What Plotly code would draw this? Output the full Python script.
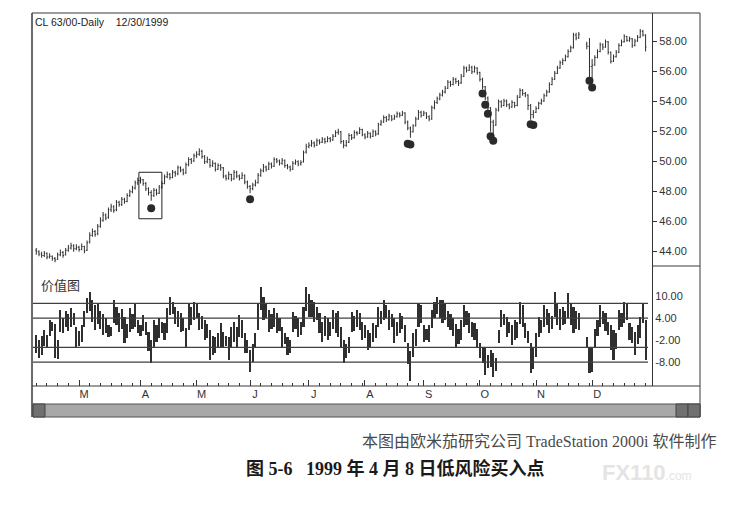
import pandas as pd
import plotly.graph_objects as go

W, H = 741, 507
OFF = 8  # page body margin; the figure starts 8px in from the window corner
FW, FH = W - OFF, H - OFF

# trading calendar (NYMEX crude, Feb 4 - Dec 30 1999)
HOLIDAYS = ["1999-02-15", "1999-04-02", "1999-05-31", "1999-07-05",
            "1999-09-06", "1999-11-25", "1999-12-24"]
MONTH_LABELS = ["M", "A", "M", "J", "J", "A", "S", "O", "N", "D"]

# CL daily bars (two missing days late Nov shown as gaps)
opens = [
    44.05, 43.95, 43.80, 43.70, 43.85, 43.60, 43.65, 43.50, 43.45, 43.75,
    43.90, 43.75, 44.05, 44.20, 44.35, 44.15, 44.25, 44.10, 44.30, 44.05,
    44.60, 45.05, 45.30, 45.15, 45.65, 46.05, 46.40, 46.25, 46.75, 46.95,
    46.75, 47.25, 47.10, 47.45, 47.30, 47.70, 47.95, 48.20, 48.55, 48.70,
    48.75, 48.50, 48.15, 47.90, 47.70, 48.05, 47.85, 48.25, 48.50, 48.95,
    49.10, 48.90, 49.25, 49.15, 49.55, 49.40, 49.20, 49.75, 50.10, 50.00,
    50.35, 50.45, 50.65, 50.30, 49.95, 50.10, 49.70, 49.85, 49.45, 49.70,
    49.55, 49.00, 48.85, 49.10, 48.80, 49.25, 49.00, 48.85, 49.05, 48.60,
    48.30, 48.15, 48.40, 48.55, 49.05, 49.35, 49.60, 49.45, 49.80, 49.65,
    50.10, 50.00, 49.85, 50.05, 49.70, 49.60, 49.45, 49.85, 49.95, 49.80,
    49.95, 50.60, 50.95, 51.05, 51.20, 51.05, 51.35, 51.25, 51.45, 51.30,
    51.50, 51.40, 51.65, 51.90, 51.95, 51.30, 51.05, 51.25, 51.70, 51.55,
    51.90, 51.85, 52.10, 51.75, 51.60, 51.85, 51.65, 51.95, 51.80, 52.45,
    52.60, 52.90, 52.75, 53.00, 52.80, 52.95, 53.15, 53.05, 53.20, 52.60,
    52.20, 51.95, 52.35, 52.80, 53.25, 53.05, 53.20, 52.95, 52.80, 53.55,
    53.90, 54.15, 54.40, 54.60, 54.85, 55.25, 55.10, 55.45, 55.30, 55.20,
    55.65, 56.20, 56.05, 56.25, 55.95, 56.20, 55.90, 55.45, 54.95, 54.20,
    53.55, 52.60, 52.40, 53.40, 53.95, 53.70, 54.00, 53.75, 53.60, 53.90,
    53.70, 54.25, 54.70, 54.50, 54.40, 53.70, 53.10, 53.25, 53.50, 53.85,
    54.00, 54.35, 54.60, 55.10, 55.45, 55.85, 56.20, 56.55, 56.70, 56.95,
    57.30, 57.55, 58.40, 58.20, None, None, 57.80, 57.65, 56.30, 56.40,
    56.90, 57.30, 57.75, 57.60, 57.95, 57.25, 56.65, 56.95, 57.25, 57.70,
    57.95, 58.30, 58.05, 58.15, 57.70, 58.00, 58.25, 58.65, 58.40,
]
highs = [
    44.20, 44.05, 43.95, 44.00, 43.90, 43.85, 43.70, 43.60, 43.90, 44.10,
    44.00, 44.20, 44.40, 44.55, 44.45, 44.45, 44.35, 44.50, 44.35, 44.70,
    45.25, 45.50, 45.40, 45.80, 46.25, 46.60, 46.50, 46.90, 47.15, 47.05,
    47.40, 47.35, 47.60, 47.55, 47.85, 48.10, 48.35, 48.70, 48.90, 48.95,
    48.80, 48.60, 48.25, 48.05, 48.20, 48.15, 48.40, 48.65, 49.10, 49.30,
    49.20, 49.40, 49.35, 49.70, 49.65, 49.50, 49.90, 50.25, 50.20, 50.50,
    50.65, 50.85, 50.75, 50.40, 50.30, 50.15, 50.05, 49.90, 49.85, 49.80,
    49.60, 49.10, 49.30, 49.15, 49.40, 49.35, 49.10, 49.25, 49.10, 48.70,
    48.40, 48.55, 48.75, 49.20, 49.50, 49.80, 49.70, 49.95, 49.90, 50.25,
    50.20, 50.10, 50.20, 50.10, 49.80, 49.70, 50.00, 50.10, 50.05, 50.05,
    50.70, 51.15, 51.25, 51.40, 51.30, 51.50, 51.45, 51.60, 51.55, 51.65,
    51.60, 51.80, 52.05, 52.15, 52.00, 51.40, 51.40, 51.85, 51.80, 52.05,
    52.00, 52.25, 52.15, 51.85, 52.00, 51.90, 52.10, 52.05, 52.55, 52.75,
    53.05, 53.00, 53.15, 53.05, 53.10, 53.30, 53.25, 53.35, 53.25, 52.70,
    52.30, 52.45, 52.95, 53.40, 53.35, 53.35, 53.25, 53.05, 53.70, 54.05,
    54.30, 54.55, 54.75, 55.00, 55.40, 55.35, 55.60, 55.55, 55.40, 55.80,
    56.35, 56.30, 56.45, 56.35, 56.35, 56.25, 55.95, 55.55, 55.00, 54.30,
    53.60, 52.75, 53.55, 54.10, 54.05, 54.15, 54.10, 53.85, 54.05, 53.95,
    54.40, 54.85, 54.80, 54.60, 54.45, 53.80, 53.40, 53.65, 53.95, 54.15,
    54.50, 54.75, 55.25, 55.60, 56.00, 56.35, 56.70, 56.85, 57.10, 57.45,
    57.70, 58.55, 58.55, 58.60, None, None, 57.95, 58.20, 56.80, 57.05,
    57.45, 57.90, 57.85, 58.10, 58.00, 57.30, 57.10, 57.40, 57.85, 58.10,
    58.45, 58.35, 58.30, 58.20, 58.15, 58.40, 58.80, 58.75, 58.45,
]
lows = [
    43.75, 43.65, 43.55, 43.60, 43.45, 43.50, 43.35, 43.25, 43.40, 43.65,
    43.55, 43.70, 43.95, 44.10, 43.95, 44.05, 43.95, 44.05, 43.85, 44.00,
    44.50, 44.95, 44.95, 45.05, 45.55, 45.95, 46.05, 46.15, 46.60, 46.55,
    46.65, 46.95, 47.00, 47.15, 47.25, 47.60, 47.85, 48.10, 48.40, 48.50,
    48.35, 48.00, 47.70, 47.35, 47.60, 47.70, 47.80, 48.15, 48.45, 48.85,
    48.75, 48.85, 48.95, 49.05, 49.25, 49.05, 49.15, 49.65, 49.80, 49.95,
    50.20, 50.35, 50.15, 49.80, 49.85, 49.55, 49.60, 49.30, 49.40, 49.35,
    48.85, 48.70, 48.75, 48.65, 48.75, 48.85, 48.70, 48.80, 48.45, 48.15,
    47.85, 48.05, 48.30, 48.50, 48.95, 49.25, 49.30, 49.40, 49.50, 49.60,
    49.85, 49.70, 49.75, 49.55, 49.45, 49.30, 49.40, 49.75, 49.65, 49.70,
    49.90, 50.50, 50.85, 50.95, 50.90, 51.00, 51.10, 51.20, 51.15, 51.25,
    51.25, 51.35, 51.60, 51.75, 51.15, 50.85, 50.95, 51.20, 51.40, 51.50,
    51.70, 51.80, 51.65, 51.45, 51.55, 51.50, 51.60, 51.65, 51.75, 52.35,
    52.55, 52.60, 52.70, 52.65, 52.75, 52.90, 52.90, 53.00, 52.45, 52.05,
    51.55, 51.90, 52.30, 52.75, 52.90, 53.00, 52.80, 52.65, 52.75, 53.45,
    53.80, 54.05, 54.30, 54.50, 54.80, 54.95, 55.05, 55.15, 55.00, 55.15,
    55.60, 55.90, 56.00, 55.80, 55.90, 55.75, 55.30, 54.80, 54.05, 53.40,
    51.95, 51.80, 52.35, 53.30, 53.55, 53.65, 53.60, 53.45, 53.55, 53.55,
    53.65, 54.20, 54.35, 54.25, 53.40, 52.75, 52.85, 53.20, 53.45, 53.75,
    53.95, 54.30, 54.55, 55.05, 55.40, 55.80, 56.15, 56.40, 56.65, 56.90,
    57.25, 57.50, 58.05, 58.15, None, None, 57.45, 55.60, 55.25, 56.35,
    56.85, 57.25, 57.40, 57.55, 57.10, 56.50, 56.60, 56.90, 57.20, 57.65,
    57.90, 57.95, 57.95, 57.55, 57.65, 57.95, 58.20, 58.30, 57.30,
]
closes = [
    43.95, 43.80, 43.70, 43.85, 43.60, 43.65, 43.50, 43.40, 43.75, 43.90,
    43.70, 44.05, 44.20, 44.35, 44.15, 44.25, 44.10, 44.30, 44.00, 44.55,
    45.05, 45.30, 45.10, 45.65, 46.05, 46.40, 46.20, 46.75, 46.95, 46.70,
    47.25, 47.10, 47.45, 47.30, 47.70, 47.95, 48.20, 48.55, 48.70, 48.75,
    48.50, 48.15, 47.90, 47.70, 48.05, 47.85, 48.25, 48.50, 48.95, 49.10,
    48.90, 49.25, 49.15, 49.55, 49.40, 49.20, 49.75, 50.10, 50.00, 50.35,
    50.45, 50.65, 50.30, 49.95, 50.10, 49.70, 49.85, 49.45, 49.70, 49.55,
    49.00, 48.85, 49.10, 48.80, 49.25, 49.00, 48.85, 49.05, 48.60, 48.30,
    48.15, 48.40, 48.55, 49.05, 49.35, 49.60, 49.45, 49.80, 49.65, 50.10,
    50.00, 49.85, 50.05, 49.70, 49.60, 49.45, 49.85, 49.95, 49.80, 49.90,
    50.55, 50.95, 51.05, 51.20, 51.05, 51.35, 51.25, 51.45, 51.30, 51.50,
    51.40, 51.65, 51.90, 51.95, 51.30, 51.05, 51.25, 51.70, 51.55, 51.90,
    51.85, 52.10, 51.75, 51.60, 51.85, 51.65, 51.95, 51.80, 52.45, 52.60,
    52.90, 52.75, 53.00, 52.80, 52.95, 53.15, 53.05, 53.20, 52.60, 52.20,
    51.95, 52.35, 52.80, 53.25, 53.05, 53.20, 52.95, 52.80, 53.55, 53.90,
    54.15, 54.40, 54.60, 54.85, 55.25, 55.10, 55.45, 55.30, 55.20, 55.65,
    56.20, 56.05, 56.25, 55.95, 56.20, 55.90, 55.45, 54.95, 54.20, 53.55,
    52.60, 52.35, 53.40, 53.95, 53.70, 54.00, 53.75, 53.60, 53.90, 53.70,
    54.25, 54.70, 54.50, 54.40, 53.70, 53.10, 53.25, 53.50, 53.85, 54.00,
    54.35, 54.60, 55.10, 55.45, 55.85, 56.20, 56.55, 56.70, 56.95, 57.30,
    57.55, 58.40, 58.20, 58.45, None, None, 57.65, 56.30, 56.40, 56.90,
    57.30, 57.75, 57.60, 57.95, 57.25, 56.65, 56.95, 57.25, 57.70, 57.95,
    58.30, 58.05, 58.15, 57.70, 58.00, 58.25, 58.65, 58.40, 57.60,
]

# value chart (价值图) bar high / low
vhigh = [
    -0.5, -2.0, -1.0, 0.7, -0.5, 3.5, 3.0, 2.4, -2.0, 6.2,
    4.0, 6.0, 5.0, 6.7, 5.5, 1.5, 0.5, 2.0, 6.0, 9.5,
    11.1, 8.9, 7.5, 8.0, 6.0, 5.0, 4.0, 2.0, 1.5, 9.0,
    7.0, 5.5, 6.5, 4.3, 2.5, 6.7, 5.0, 8.0, 3.5, 2.0,
    4.8, 3.0, 0.2, -2.0, 3.5, 2.0, 4.0, 3.0, 2.6, 6.7,
    9.7, 8.5, 7.0, 6.0, 5.4, 4.0, 1.3, 8.0, 7.0, 8.4,
    8.0, 5.4, 4.5, 3.5, 2.5, 0.7, -1.0, -1.2, 0.0, 2.6,
    0.2, -1.0, -1.2, 1.5, 3.0, 1.5, 4.8, 3.5, 0.0, -2.0,
    -4.7, -3.0, 0.0, 8.0, 12.4, 9.7, 8.0, 6.2, 5.0, 6.7,
    5.5, 4.0, 1.5, 0.0, -1.2, -2.0, 5.6, 4.5, 4.0, 3.0,
    7.0, 12.4, 10.5, 9.0, 8.4, 7.0, 5.4, 3.0, 4.5, 4.0,
    3.0, 6.2, 5.5, 6.0, 1.5, -2.0, -3.0, -1.2, 5.6, 4.5,
    6.2, 5.5, 3.0, 2.0, 0.7, 0.0, 2.6, 2.0, 7.0, 6.0,
    8.9, 7.5, 6.2, 5.0, 4.0, 3.0, 5.4, 4.5, 2.0, -2.8,
    -5.0, 0.0, 1.0, 8.0, 7.5, 2.0, 1.0, 2.0, 6.2, 8.5,
    9.7, 9.0, 9.0, 8.0, 6.0, 5.0, 4.0, 2.5, 1.0, 3.5,
    7.5, 6.0, 5.4, 3.0, 2.6, 1.0, -2.8, -4.0, -4.2, -6.0,
    -4.7, -5.5, -7.0, 0.7, 6.2, 5.0, 4.3, 3.0, 2.0, 3.5,
    3.0, 8.4, 7.5, 2.6, 0.5, -2.8, -4.0, 0.0, 4.3, 3.5,
    7.5, 6.5, 5.4, 4.5, 11.0, 8.0, 6.5, 7.0, 6.0, 10.8,
    8.0, 7.0, 6.0, 5.4, None, None, -1.2, -4.0, -4.0, 1.0,
    3.5, 7.5, 6.0, 5.4, 3.0, 2.0, 0.7, 0.0, 6.2, 5.5,
    8.4, 8.0, 2.6, 1.5, 0.2, 2.0, 4.3, 8.0, 3.5,
]
vlow = [
    -5.5, -6.9, -6.0, -3.5, -4.0, -1.0, 0.5, -7.0, -7.2, 0.2,
    0.0, 1.5, 0.5, 1.5, 2.0, -4.2, -3.5, -2.5, 1.5, 5.4,
    6.0, 3.0, 0.7, 2.5, 1.0, -0.6, 0.0, -1.2, -1.0, 2.6,
    2.0, 0.2, 1.0, -2.8, -1.5, 0.2, 1.0, 1.5, -0.1, -1.0,
    0.5, -0.6, -5.0, -8.3, -4.2, -2.5, -1.5, 0.0, -2.0, 0.0,
    4.8, 5.0, 2.5, 1.5, 0.2, 0.5, -4.2, 0.7, 2.0, 3.5,
    4.0, 0.7, 1.0, -2.0, -1.5, -7.4, -6.0, -5.6, -4.0, -4.0,
    -4.0, -3.5, -7.4, -4.2, -2.5, -4.0, -1.2, -1.5, -5.5, -5.6,
    -10.7, -8.0, -4.2, 0.7, 6.2, 3.5, 4.0, 0.2, 1.0, 1.5,
    0.0, 0.5, -4.2, -3.0, -6.0, -5.5, 0.2, 1.0, -1.2, -0.5,
    1.5, 6.0, 4.3, 4.3, 3.0, 3.5, 0.0, -2.5, -1.0, -2.0,
    -1.0, 1.0, 0.0, -1.2, -4.2, -8.3, -7.0, -5.5, 0.2, 0.5,
    1.5, 0.7, -2.0, -1.5, -4.7, -4.0, -2.5, -1.5, 1.5, 2.5,
    3.5, 4.0, 0.7, 1.5, -2.8, -1.0, 0.0, 1.0, -2.5, -8.5,
    -13.0, -6.6, -3.5, 1.5, 2.6, -2.5, -2.0, -2.5, 1.3, 4.0,
    5.0, 4.0, 2.6, 3.5, 1.5, 0.7, -1.0, -4.0, -3.0, -2.0,
    1.5, 2.0, 0.0, -1.2, -2.0, -4.0, -7.0, -8.3, -11.5, -9.5,
    -9.3, -12.0, -10.5, -2.8, 1.5, 2.0, -1.2, 0.0, -3.3, -2.0,
    -1.5, 2.5, 1.5, -1.5, -2.8, -11.0, -10.0, -6.6, -1.2, 0.0,
    1.5, 2.0, 0.0, 1.0, 4.3, 2.0, 0.7, 2.0, 2.5, 4.0,
    2.0, 0.0, 1.0, 0.7, None, None, -4.2, -11.0, -10.7, -4.0,
    -1.0, 1.5, 2.5, 0.5, -0.6, -4.7, -7.4, -4.5, 0.7, 1.5,
    2.6, 3.5, -2.0, -2.8, -6.0, -3.0, -1.5, 2.6, -7.4,
]

# low-risk buy signals (bar index, dot price)
sig_idx = [43, 80, 139, 140, 167, 168, 169, 170, 171, 185, 186, 207, 208]
sig_price = [46.85, 47.45, 51.15, 51.10, 54.50, 53.75, 53.15, 51.65, 51.35,
             52.45, 52.40, 55.35, 54.90]

# box round the 1999-04-08 setup
box_idx = [39, 46]
box_price = [46.15, 49.25]

price_ticks = [44, 46, 48, 50, 52, 54, 56, 58]
value_ticks = [10, 4, -2, -8]
value_ticktext = ["10.00", "4.00", "-2.00", "-8.00"]
value_levels = [8, 4, -4, -8]

days = [d for d in pd.bdate_range("1999-02-04", "1999-12-30")
        if d.strftime("%Y-%m-%d") not in HOLIDAYS]
x = list(range(len(days)))
month_idx = [i for i in x[1:] if days[i].month != days[i - 1].month]
minor_idx = [i for i in x if i not in month_idx and
             (i - max([m for m in [0] + month_idx if m <= i])) % 4 == 0]

INK = "#2f2f2f"
LBL = dict(family="Liberation Sans, Arial, sans-serif", size=11, color="#333333")


# window pixel -> paper fraction
def px(v):
    return (v - OFF) / FW


def py(v):
    return 1 - (v - OFF) / FH


fig = go.Figure()

fig.add_trace(go.Ohlc(
    x=x, open=opens, high=highs, low=lows, close=closes,
    increasing=dict(line=dict(color=INK, width=1)),
    decreasing=dict(line=dict(color=INK, width=1)),
    tickwidth=0.35, hoverinfo="skip", showlegend=False,
    xaxis="x", yaxis="y"))

fig.add_trace(go.Scatter(
    x=sig_idx, y=sig_price, mode="markers",
    marker=dict(size=8, color="#2a2a2a"),
    hoverinfo="skip", showlegend=False, xaxis="x", yaxis="y"))

fig.add_trace(go.Bar(
    x=x,
    y=[None if h is None else h - l for h, l in zip(vhigh, vlow)],
    base=vlow, width=0.8,
    marker=dict(color=INK, line=dict(width=0)),
    hoverinfo="skip", showlegend=False, xaxis="x2", yaxis="y2"))

xrange_ = [-1.6, len(x) + 1.4]
xdom = [px(32), px(652)]

shapes = []


def pline(x0, y0, x1, y1, w=1.2, c="#3a3a3a"):
    shapes.append(dict(type="line", xref="paper", yref="paper",
                       x0=px(x0), y0=py(y0), x1=px(x1), y1=py(y1),
                       line=dict(color=c, width=w)))


pline(32, 13, 700, 13)
pline(32, 13, 32, 417, 1.5)
pline(700, 13, 700, 417, 1)
pline(652, 266, 700, 266)
pline(32, 386, 700, 386)

for lv in value_levels:
    shapes.append(dict(type="line", xref="paper", yref="y2",
                       x0=px(33), x1=px(648), y0=lv, y1=lv,
                       line=dict(color="#404040", width=1.2)))

shapes.append(dict(type="rect", xref="x", yref="y",
                   x0=box_idx[0] - 0.6, x1=box_idx[1] + 1.0,
                   y0=box_price[0], y1=box_price[1],
                   line=dict(color="#222222", width=1)))

# scroll bar strip under the chart
shapes.append(dict(type="rect", xref="paper", yref="paper",
                   x0=px(33), x1=px(700), y0=py(417), y1=py(404),
                   fillcolor="#a8a8a8", line=dict(color="#555555", width=1)))
for a, b in [(33, 45), (676, 688), (688, 700)]:
    shapes.append(dict(type="rect", xref="paper", yref="paper",
                       x0=px(a), x1=px(b), y0=py(417), y1=py(404),
                       fillcolor="#707070", line=dict(color="#444444", width=1)))

annotations = [
    dict(text="CL 63/00-Daily\u00a0\u00a0\u00a0\u00a012/30/1999", x=px(33), y=py(22),
         font=dict(family="Liberation Sans, Arial", size=10.5, color="#222222")),
    dict(text="价值图", x=px(39), y=py(284),
         font=dict(family="Noto Sans CJK SC", size=13, color="#333333")),
    dict(text="本图由欧米茄研究公司 TradeStation 2000i 软件制作",
         x=px(719), y=py(441), xanchor="right",
         font=dict(family="Liberation Serif, Noto Sans CJK SC", size=16, color="#4a4a4a")),
    dict(text="<b>图 5-6\u00a0\u00a0\u00a01999 年 4 月 8 日低风险买入点</b>",
         x=px(395), y=py(468), xanchor="center",
         font=dict(family="Liberation Serif, Noto Sans CJK SC", size=18, color="#1a1a1a")),
    dict(text="<b>FX110</b><span style='font-size:12px'>.com</span>",
         x=px(600), y=py(472), xanchor="left",
         font=dict(family="Liberation Sans", size=22, color="#e4e4e4")),
]
for a in annotations:
    a.update(xref="paper", yref="paper", showarrow=False)
    a.setdefault("xanchor", "left")
    a.setdefault("yanchor", "middle")

fig.update_layout(
    width=FW, height=FH, autosize=False,
    margin=dict(l=0, r=0, t=0, b=0),
    paper_bgcolor="white", plot_bgcolor="white",
    bargap=0, showlegend=False,
    xaxis=dict(domain=xdom, range=xrange_, anchor="y",
               showticklabels=False, ticks="", showgrid=False,
               zeroline=False, showline=False,
               rangeslider=dict(visible=False)),
    yaxis=dict(domain=[py(266), py(13)], range=[43.0, 59.87], anchor="x",
               side="right", showline=True, linecolor="#333333", linewidth=1.2,
               ticks="outside", ticklen=4, tickcolor="#333333",
               tickvals=price_ticks, tickformat=".2f", tickfont=LBL,
               showgrid=False, zeroline=False),
    xaxis2=dict(domain=xdom, range=xrange_, anchor="y2",
                tickvals=month_idx, ticktext=MONTH_LABELS,
                ticks="inside", ticklen=6, tickcolor="#333333",
                ticklabelshift=5, tickfont=LBL,
                minor=dict(tickvals=minor_idx, ticks="inside", ticklen=3,
                           tickcolor="#333333"),
                showgrid=False, zeroline=False, showline=False),
    yaxis2=dict(domain=[py(386), py(266)], range=[-14.5, 18.2], anchor="x2",
                side="right", showline=True, linecolor="#333333", linewidth=1.2,
                ticks="", tickvals=value_ticks, ticktext=value_ticktext,
                tickfont=LBL, showgrid=False, zeroline=False),
    shapes=shapes,
    annotations=annotations,
)

fig.write_html("out.html")
